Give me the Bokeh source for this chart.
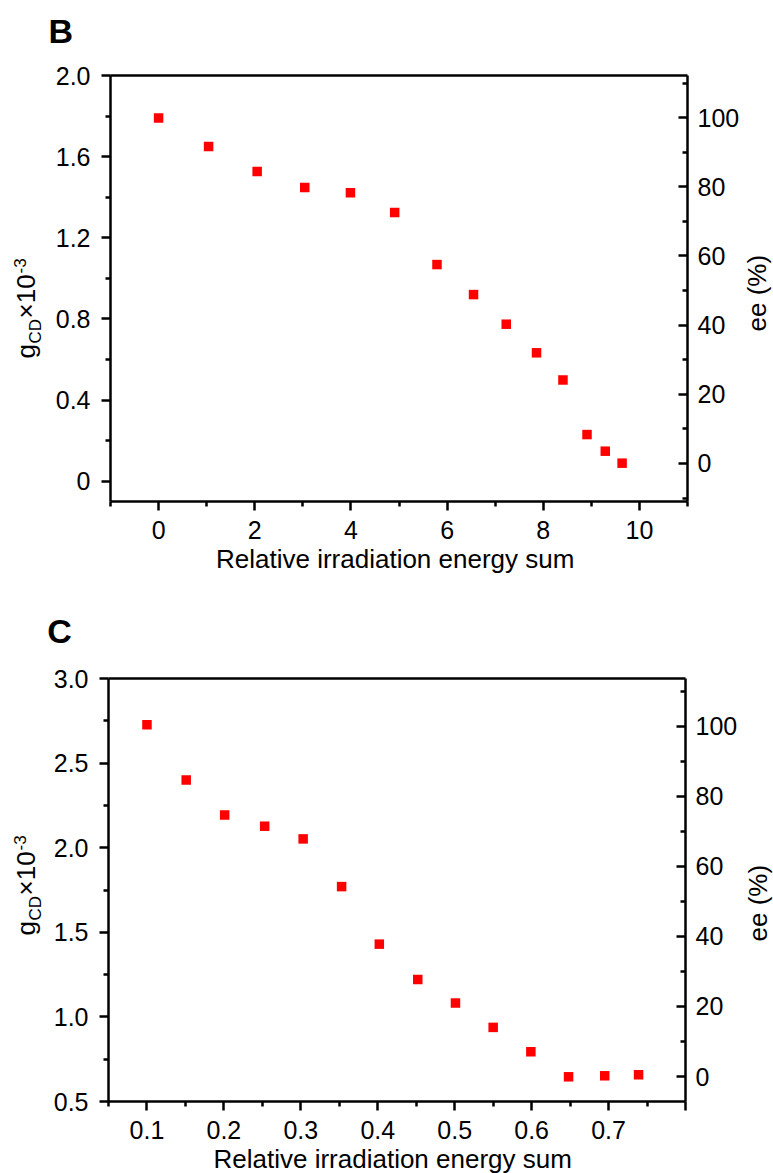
import numpy as np
from bokeh.plotting import figure
from bokeh.models import LinearAxis, Range1d, FixedTicker, Label, NumeralTickFormatter
from bokeh.layouts import column
from bokeh.embed import file_html
from bokeh.resources import INLINE

# ---------------- data ----------------
# Panel B
b_energy = [0.0, 1.04, 2.05, 3.04, 3.99, 4.91, 5.79, 6.55, 7.23, 7.86, 8.41, 8.91, 9.29, 9.64]
b_gcd = [1.79, 1.65, 1.527, 1.448, 1.422, 1.325, 1.068, 0.920, 0.774, 0.633, 0.499, 0.230, 0.148, 0.089]
# Panel C
c_energy = [0.100, 0.151, 0.201, 0.253, 0.303, 0.353, 0.402, 0.452, 0.501, 0.550, 0.599, 0.648, 0.695, 0.739]
c_gcd = [2.727, 2.400, 2.194, 2.127, 2.052, 1.770, 1.430, 1.221, 1.082, 0.938, 0.794, 0.646, 0.652, 0.658]

# tick positions
b_x_major = [0, 2, 4, 6, 8, 10]
b_x_minor = [-1, 1, 3, 5, 7, 9, 11]
b_y_major = [0, 0.4, 0.8, 1.2, 1.6, 2.0]
b_y_minor = [0.2, 0.6, 1.0, 1.4, 1.8]
ee_major = [0, 20, 40, 60, 80, 100]
b_ee_minor = [-10, 10, 30, 50, 70, 90, 110]
c_x_major = [0.1, 0.2, 0.3, 0.4, 0.5, 0.6, 0.7, 0.8]
c_x_minor = [0.05, 0.15, 0.25, 0.35, 0.45, 0.55, 0.65, 0.75]
c_y_major = [0.5, 1.0, 1.5, 2.0, 2.5, 3.0]
c_y_minor = [0.75, 1.25, 1.75, 2.25, 2.75]
c_ee_minor = [10, 30, 50, 70, 90, 110]

x_title = "Relative irradiation energy sum"
ee_title = "ee (%)"

FONT = "Liberation Sans"
TICK = "25px"
BIG = 26
SMALL = 17
W = 773
LW = 2.5
BASE_SHIFT = 0.38   # empirical baseline correction (fraction of font size)


def style_axis(ax, ticks, minors, tick_in=0, tick_out=9, minor_in=0, minor_out=5, standoff=8):
    ax.ticker = FixedTicker(ticks=ticks, minor_ticks=minors)
    ax.axis_line_width = LW
    ax.axis_line_color = "black"
    ax.major_tick_line_width = LW
    ax.minor_tick_line_width = LW
    ax.major_tick_line_color = "black"
    ax.minor_tick_line_color = "black"
    ax.major_tick_in = tick_in
    ax.major_tick_out = tick_out
    ax.minor_tick_in = minor_in
    ax.minor_tick_out = minor_out
    ax.major_label_text_font = FONT
    ax.major_label_text_font_size = TICK
    ax.major_label_text_color = "black"
    ax.major_label_standoff = standoff


def make_panel(height, box, xr, yr, eer):
    """box = plot-box pixel edges (L, R, T, B); the frame covers the whole canvas
    and the visible axes are placed at fixed data locations with bounds."""
    L, R, T, B = box
    kx = (xr[1] - xr[0]) / (R - L)
    ky = (yr[1] - yr[0]) / (B - T)
    ke = (eer[1] - eer[0]) / (B - T)
    x_full = (xr[0] - L * kx, xr[1] + (W - R) * kx)
    y_full = (yr[0] - (height - B) * ky, yr[1] + T * ky)
    e_full = (eer[0] - (height - B) * ke, eer[1] + T * ke)
    p = figure(width=W, height=height, x_range=Range1d(*x_full), y_range=Range1d(*y_full),
               output_backend="svg", toolbar_location=None,
               x_axis_location=None, y_axis_location=None,
               min_border=0)
    p.title.visible = False
    p.grid.visible = False
    p.background_fill_color = "white"
    p.border_fill_color = "white"
    p.outline_line_color = None
    p.extra_y_ranges = {"ee": Range1d(*e_full)}

    ax_b = LinearAxis(fixed_location=yr[0], bounds=xr)
    ax_l = LinearAxis(fixed_location=xr[0], bounds=yr)
    ax_r = LinearAxis(y_range_name="ee", fixed_location=xr[1], bounds=eer)
    ax_t = LinearAxis(fixed_location=yr[1], bounds=xr,
                      ticker=FixedTicker(ticks=[], minor_ticks=[]),
                      axis_line_width=LW, axis_line_color="black",
                      major_label_text_font_size="0px")
    p.add_layout(ax_b, "below")
    p.add_layout(ax_l, "left")
    p.add_layout(ax_r, "right")
    p.add_layout(ax_t, "above")

    def fx(px):
        return xr[0] + (px - L) * kx

    def fy(py):
        return yr[1] - (py - T) * ky
    return p, ax_b, ax_l, ax_r, fx, fy


def add_label(p, fx, fy, px, py, text, size=BIG, angle=0.0, align="left", bold=False):
    # (px, py) = desired baseline anchor in pixels; shift toward the text's "up"
    d = BASE_SHIFT * size
    px2 = px - d * np.sin(angle)
    py2 = py - d * np.cos(angle)
    p.add_layout(Label(x=fx(px2), y=fy(py2), text=text, angle=angle,
                       text_align=align, text_baseline="alphabetic",
                       text_font=FONT, text_font_size=f"{size}px", text_color="black",
                       text_font_style="bold" if bold else "normal"))


def add_gcd_title(p, fx, fy, y0):
    # y0 = pixel y where the rotated title starts (its lower end)
    a = np.pi / 2
    add_label(p, fx, fy, 35.5, y0, "g", angle=a)
    add_label(p, fx, fy, 41.5, y0 - 15, "CD", size=SMALL, angle=a)
    add_label(p, fx, fy, 35.5, y0 - 40, "×10", angle=a)
    add_label(p, fx, fy, 25.5, y0 - 85, "-3", size=SMALL, angle=a)


# ---------------- panel B ----------------
H1 = 586
p1, b1, l1, r1, fx1, fy1 = make_panel(H1, (110, 687, 75, 501), (-1, 11), (-0.1, 2.0), (-11.0, 112.2))
p1.scatter(b_energy, b_gcd, marker="square", size=9.5, fill_color="#ff0000", line_color=None)
style_axis(b1, b_x_major, b_x_minor, standoff=10)
b1.formatter = NumeralTickFormatter(format="0")
style_axis(l1, b_y_major, b_y_minor, standoff=11)
l1.formatter = NumeralTickFormatter(format="0.0")
l1.major_label_overrides = {0: "0"}
style_axis(r1, ee_major, b_ee_minor, tick_in=9, tick_out=0, minor_in=5, minor_out=0, standoff=10)
r1.formatter = NumeralTickFormatter(format="0")
add_label(p1, fx1, fy1, 48, 43, "B", size=34, bold=True)
add_gcd_title(p1, fx1, fy1, 358)
add_label(p1, fx1, fy1, 766, 331, ee_title, angle=np.pi / 2)
add_label(p1, fx1, fy1, 394.7, 568.5, x_title, align="center")

# ---------------- panel C ----------------
H2 = 587
p2, b2, l2, r2, fx2, fy2 = make_panel(H2, (108, 685, 92, 515), (0.05, 0.80), (0.5, 3.0), (-7.14, 113.7))
p2.scatter(c_energy, c_gcd, marker="square", size=9.5, fill_color="#ff0000", line_color=None)
style_axis(b2, c_x_major, c_x_minor, standoff=10)
b2.formatter = NumeralTickFormatter(format="0.0")
b2.major_label_overrides = {0.8: ""}
style_axis(l2, c_y_major, c_y_minor, standoff=11)
l2.formatter = NumeralTickFormatter(format="0.0")
style_axis(r2, ee_major, c_ee_minor, tick_in=9, tick_out=0, minor_in=5, minor_out=0, standoff=10)
r2.formatter = NumeralTickFormatter(format="0")
add_label(p2, fx2, fy2, 46.7, 57, "C", size=34, bold=True)
add_gcd_title(p2, fx2, fy2, 349)
add_label(p2, fx2, fy2, 767, 355, ee_title, angle=np.pi / 2)
add_label(p2, fx2, fy2, 392.2, 582.3, x_title, align="center")

layout = column(p1, p2, spacing=0)
open("out.html", "w").write(file_html(layout, INLINE))
